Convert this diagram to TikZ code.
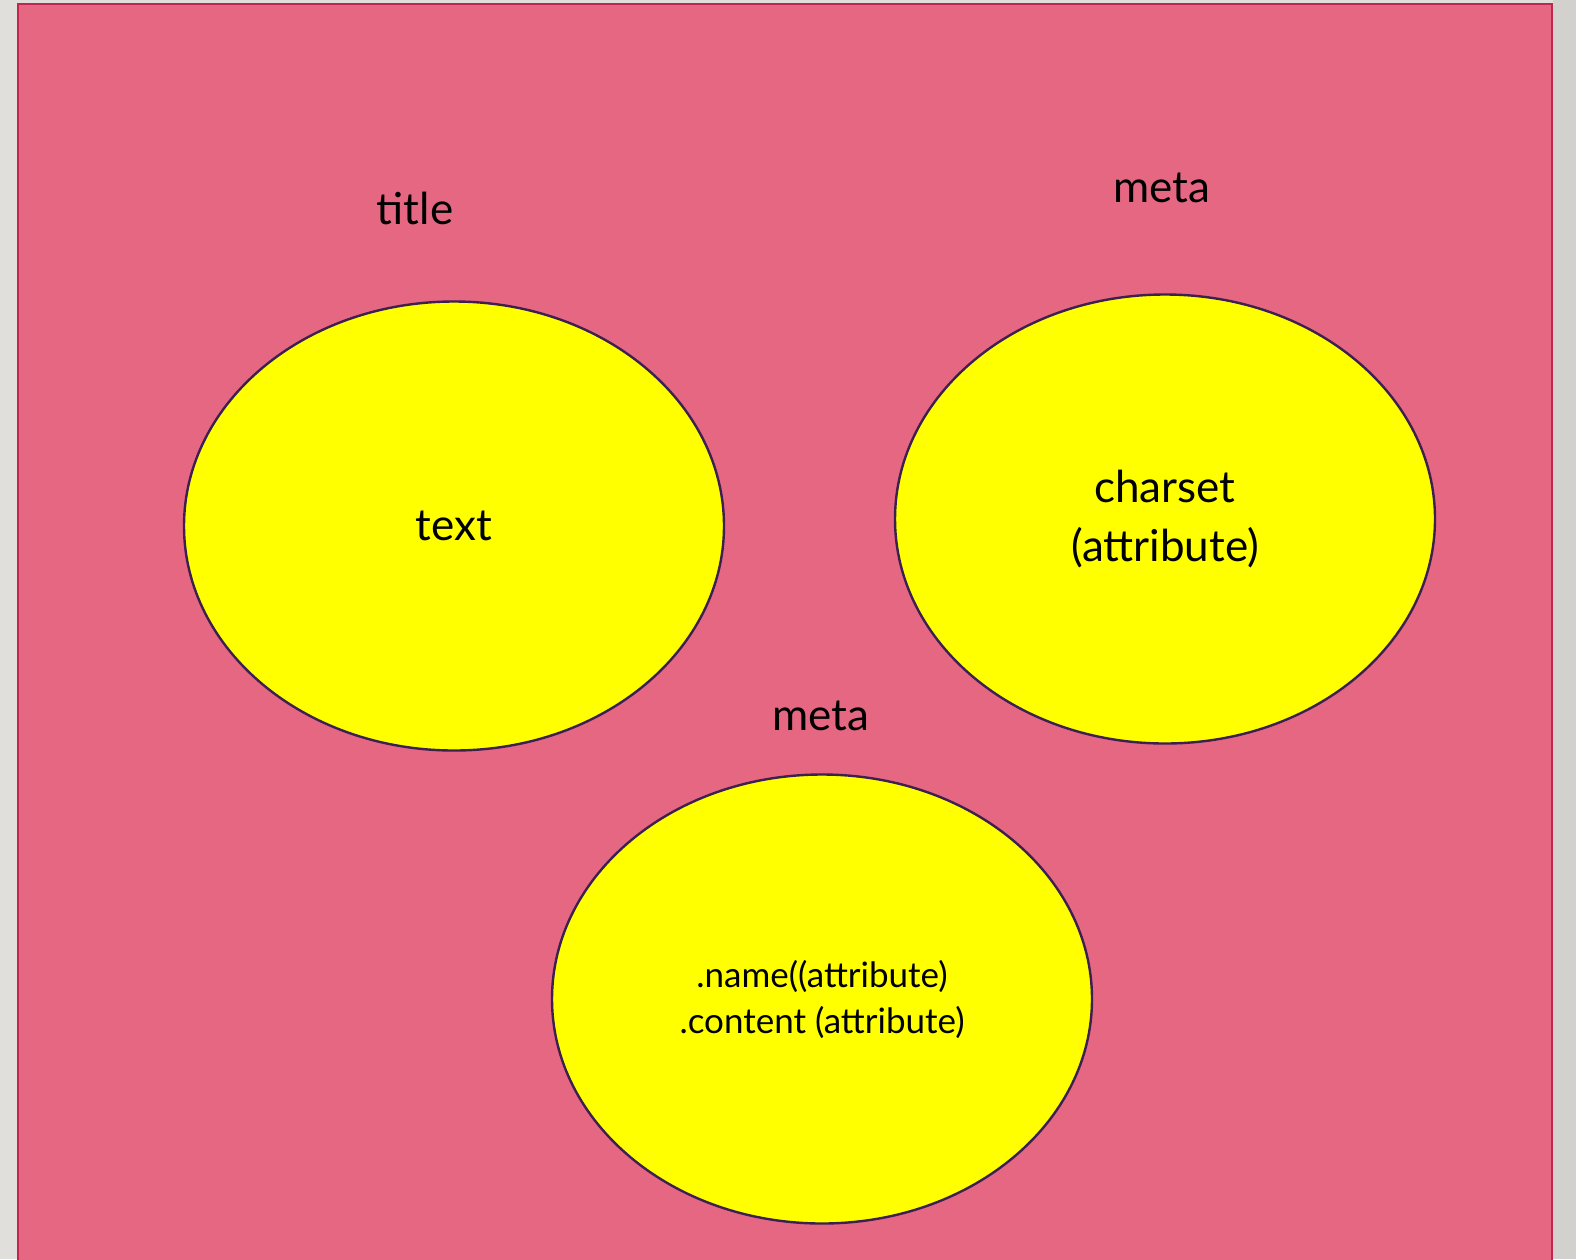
\documentclass[tikz,border=0pt]{standalone}
\usepackage{fontspec}
\setmainfont{Lato}
\usepackage{tikz}
\usetikzlibrary{shapes.geometric}
\definecolor{pagegray}{HTML}{E0DFDB}
\definecolor{pagegraydk}{HTML}{D3D1CE}
\definecolor{slidepink}{HTML}{E66782}
\definecolor{slideedge}{HTML}{C2264E}
\definecolor{blobyellow}{HTML}{FFFF00}
\definecolor{blobedge}{HTML}{3B2050}
\tikzset{
  slide/.style    = {fill=slidepink, draw=slideedge, line width=2pt},
  blob/.style     = {ellipse, fill=blobyellow, draw=blobedge, line width=2.4pt,
                     minimum width=540pt, minimum height=449pt, inner sep=0pt,
                     align=center},
  bigtext/.style  = {font=\fontsize{44}{59}\selectfont},
  smalltext/.style= {font=\fontsize{35}{46}\selectfont},
  tagname/.style  = {font=\fontsize{44}{48}\selectfont, inner sep=0pt},
}

\begin{document}
\begin{tikzpicture}[x=1pt, y=-1pt]
  % canvas and slide
  \fill[pagegray] (0,0) rectangle (1576,1259);
  \fill[pagegraydk] (1553,0) rectangle (1576,1259);
  \useasboundingbox (0,0) rectangle (1576,1259);
  \draw[slide] (18,4) rectangle (1552,1275);

  % elements
  \node[blob, bigtext] (titlebox) at (454,526) {\raisebox{-3pt}{text}};
  \node[blob, bigtext] (metaone) at (1165,519) {charset\\(attribute)};
  \node[blob, smalltext] (metatwo) at (822,999) {.name((attribute)\\.content (attribute)};

  % element names
  \node[tagname] (titlename) at (415,208) {title};
  \node[tagname] (metaonename) at (1162,188) {meta};
  \node[tagname] (metatwoname) at (821,716) {meta};
\end{tikzpicture}
\end{document}
